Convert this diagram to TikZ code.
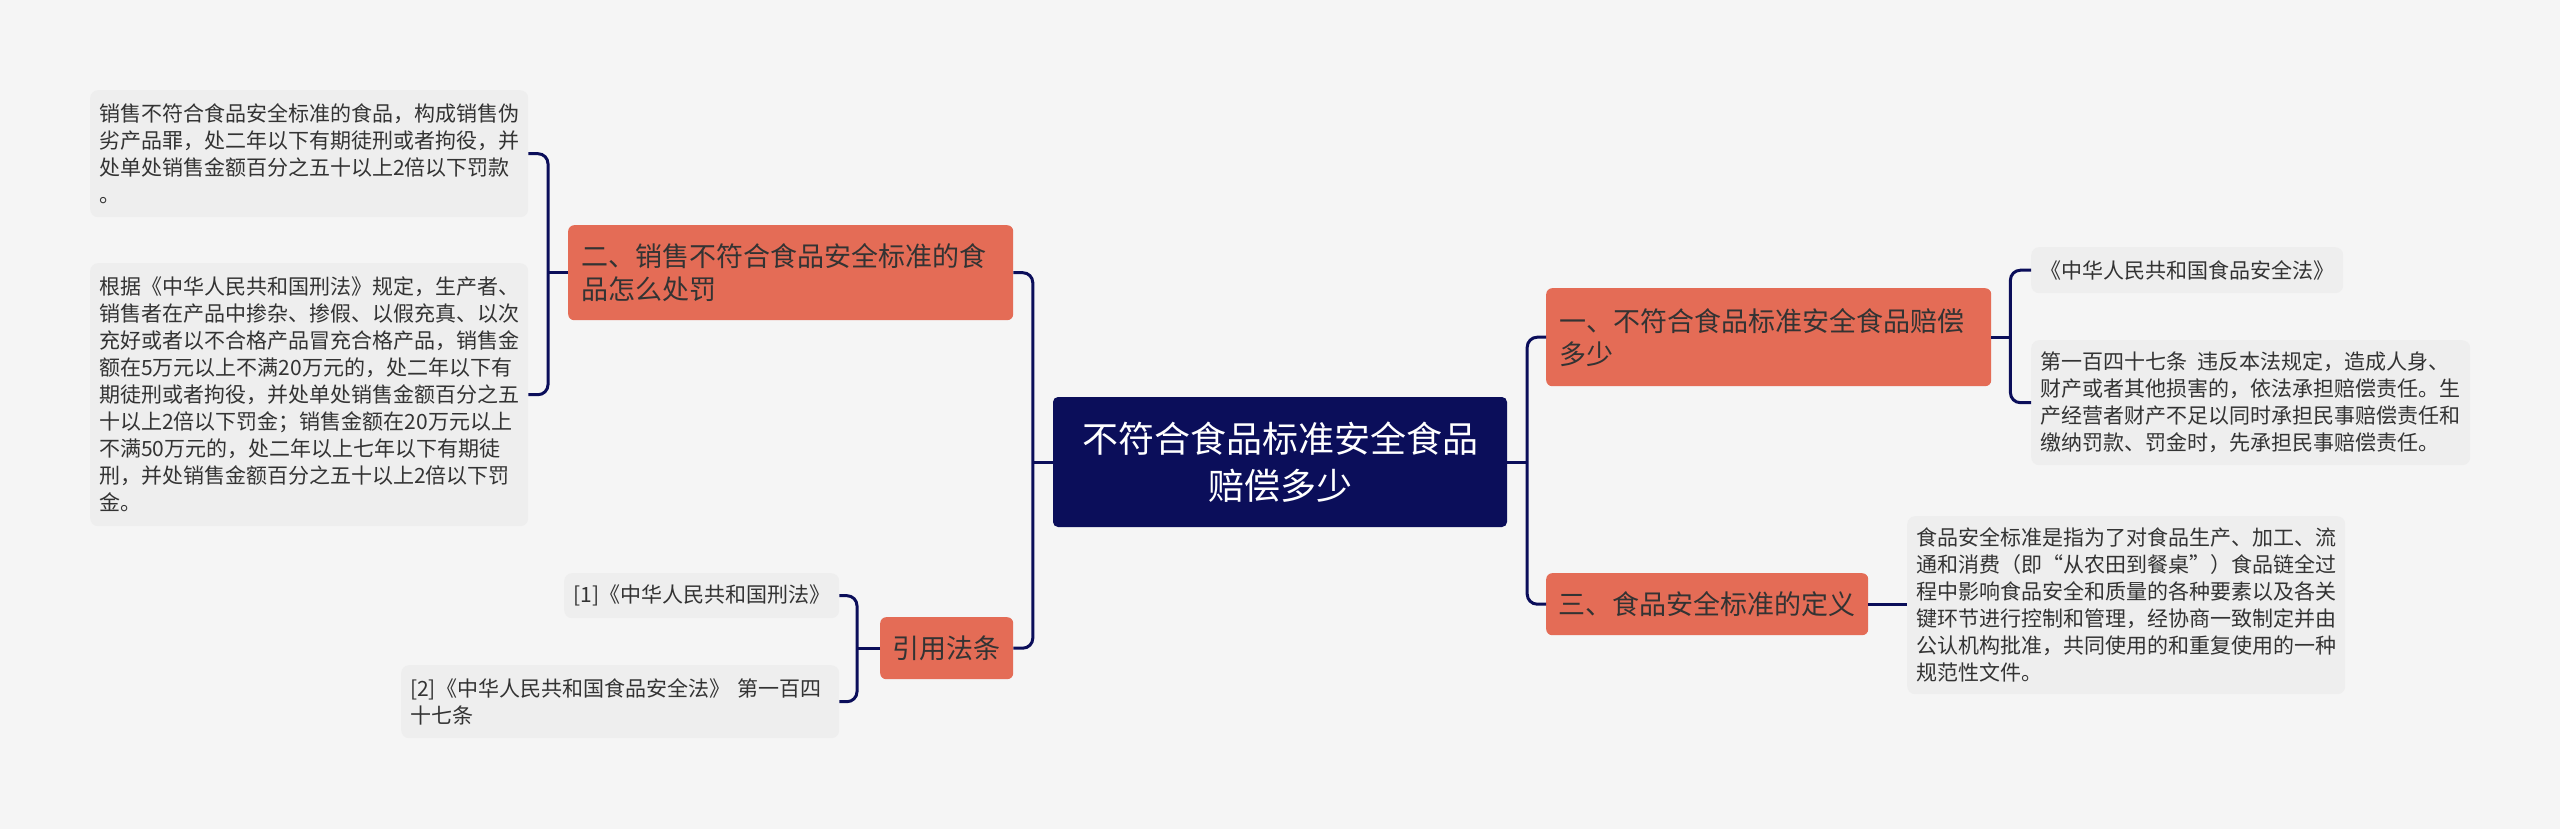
\documentclass[tikz,border=0pt]{standalone}
\usepackage{fontspec}
\setmainfont{Noto Sans CJK SC}
\usepackage{tikz}

\definecolor{navy}{HTML}{0B0E5A}
\definecolor{salmon}{HTML}{E46C56}
\definecolor{leafgray}{HTML}{EEEEEE}
\definecolor{bggray}{HTML}{F5F5F5}
\definecolor{ink}{HTML}{333333}

\tikzset{
  root/.style={fill=navy, text=white, rounded corners=5pt, align=center, inner sep=0pt,
    font=\fontsize{36}{47}\selectfont},
  topic/.style={fill=salmon, text=ink, rounded corners=6pt, align=left, inner ysep=0pt,
    font=\fontsize{27}{33}\selectfont},
  leaf/.style={fill=leafgray, text=ink, rounded corners=8pt, align=left, inner ysep=0pt,
    inner xsep=9pt, font=\fontsize{21}{27}\selectfont},
  link/.style={draw=navy, line width=3pt, rounded corners=10pt},
}

\begin{document}
\begin{tikzpicture}[x=1pt, y=-1pt]
  \fill[bggray] (0,0) rectangle (2560,829);
  \useasboundingbox (0,0) rectangle (2560,829);

  \node[root, minimum width=454pt, minimum height=130pt] (root) at (1280,462) {不符合食品标准安全食品\\赔偿多少};

  \node[topic, anchor=north west, minimum height=98pt, text width=419pt, inner xsep=13pt] (sec1) at (1546,288)
    {一、不符合食品标准安全食品赔偿\\多少};
  \node[topic, anchor=north west, minimum width=322pt, minimum height=62pt, inner xsep=12pt] (sec3) at (1546,573)
    {三、食品安全标准的定义};
  \node[topic, anchor=north west, minimum height=95pt, text width=419pt, inner xsep=13pt] (sec2) at (568,225)
    {二、销售不符合食品安全标准的食\\品怎么处罚};
  \node[topic, anchor=north west, minimum width=133pt, minimum height=62pt, inner xsep=8pt] (cite) at (880,617)
    {引用法条};

  \node[leaf, anchor=north west, minimum width=312pt, minimum height=46pt] (law1) at (2031,247)
    {《中华人民共和国食品安全法》};
  \node[leaf, anchor=north west, minimum height=125pt, text width=421pt] (law2) at (2031,340)
    {第一百四十七条\hspace{0.5em}违反本法规定，造成人身、\\财产或者其他损害的，依法承担赔偿责任。生\\产经营者财产不足以同时承担民事赔偿责任和\\缴纳罚款、罚金时，先承担民事赔偿责任。};
  \node[leaf, anchor=north west, minimum height=178pt, text width=420pt] (define) at (1907,516)
    {食品安全标准是指为了对食品生产、加工、流\\通和消费（即“从农田到餐桌”）食品链全过\\程中影响食品安全和质量的各种要素以及各关\\键环节进行控制和管理，经协商一致制定并由\\公认机构批准，共同使用的和重复使用的一种\\规范性文件。};

  \node[leaf, anchor=north west, minimum height=127pt, text width=420pt] (pun1) at (90,90)
    {销售不符合食品安全标准的食品，构成销售伪\\劣产品罪，处二年以下有期徒刑或者拘役，并\\处单处销售金额百分之五十以上2倍以下罚款\\。};
  \node[leaf, anchor=north west, minimum height=263pt, text width=420pt] (pun2) at (90,263)
    {根据《中华人民共和国刑法》规定，生产者、\\销售者在产品中掺杂、掺假、以假充真、以次\\充好或者以不合格产品冒充合格产品，销售金\\额在5万元以上不满20万元的，处二年以下有\\期徒刑或者拘役，并处单处销售金额百分之五\\十以上2倍以下罚金；销售金额在20万元以上\\不满50万元的，处二年以上七年以下有期徒\\刑，并处销售金额百分之五十以上2倍以下罚\\金。};
  \node[leaf, anchor=north west, minimum width=275pt, minimum height=45pt] (ref1) at (564,573)
    {[1]《中华人民共和国刑法》};
  \node[leaf, anchor=north west, minimum height=73pt, text width=420pt] (ref2) at (401,665)
    {[2]《中华人民共和国食品安全法》 第一百四\\十七条};

  \draw[link] (root.east) -- ++(20,0);
  \draw[link] (sec1.west) -| ([xshift=20pt]root.east) |- (sec3.west);
  \draw[link] (root.west) -- ++(-20,0);
  \draw[link] (sec2.east) -| ([xshift=-20pt]root.west) |- (cite.east);

  \draw[link] (sec1.east) -- ++(19,0);
  \draw[link] (law1.west) -| ([xshift=19pt]sec1.east) |- (law2.west);
  \draw[link] (sec3.east) -- (sec3.east -| define.west);

  \draw[link] (sec2.west) -- ++(-20,0);
  \draw[link] (pun1.east) -| ([xshift=-20pt]sec2.west) |- (pun2.east);
  \draw[link] (cite.west) -- ++(-23,0);
  \draw[link] (ref1.east) -| ([xshift=-23pt]cite.west) |- (ref2.east);
\end{tikzpicture}
\end{document}
